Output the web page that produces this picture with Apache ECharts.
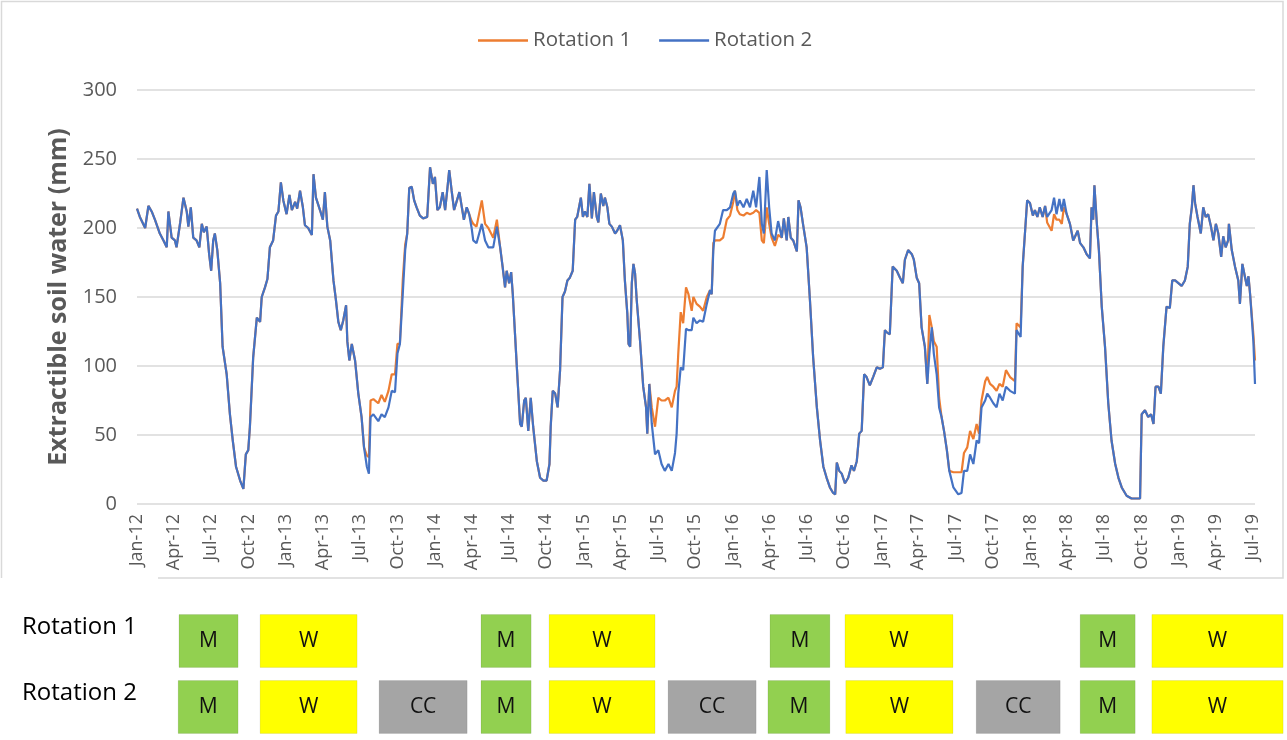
<!DOCTYPE html>
<html>
<head>
<meta charset="utf-8">
<script src="https://cdn.jsdelivr.net/npm/echarts@6/dist/echarts.min.js"></script>
<style>
html,body{margin:0;padding:0;background:#fff;}
#chart{width:1287px;height:740px;}
</style>
</head>
<body>
<div id="chart"></div>
<script>
// x positions: days since 1 Jan 2012
const days = [0,7,20,28,36,44,56,65,73,77,85,93,97,106,114,122,126,132,138,146,153,159,164,171,177,182,187,191,197,204,210,220,228,235,243,253,261,267,273,277,285,294,302,306,314,320,326,334,341,347,353,359,367,374,380,388,393,400,407,412,420,429,433,439,449,456,461,467,474,482,488,494,500,506,513,516,521,527,535,543,551,557,564,569,573,580,592,600,608,617,625,633,639,645,652,658,663,668,674,680,686,694,702,712,719,726,731,737,743,750,756,761,766,772,778,783,791,797,802,809,815,821,825,833,846,854,862,874,883,891,897,903,907,913,918,922,932,940,944,950,954,960,966,972,981,989,997,1005,1012,1015,1020,1026,1032,1038,1044,1050,1056,1062,1069,1075,1080,1089,1094,1099,1105,1110,1116,1121,1128,1132,1138,1144,1148,1154,1159,1165,1173,1178,1185,1192,1197,1203,1206,1210,1214,1218,1222,1226,1234,1242,1249,1252,1257,1263,1271,1279,1287,1295,1304,1312,1320,1324,1328,1334,1340,1347,1353,1361,1365,1373,1381,1389,1398,1406,1410,1414,1418,1430,1438,1447,1455,1463,1467,1473,1479,1488,1496,1504,1512,1519,1527,1533,1538,1545,1551,1557,1565,1573,1582,1587,1594,1598,1604,1610,1619,1623,1628,1635,1643,1651,1659,1668,1676,1684,1692,1700,1708,1713,1717,1723,1729,1737,1745,1753,1759,1766,1772,1778,1784,1790,1798,1806,1815,1823,1830,1835,1841,1847,1854,1864,1872,1879,1884,1892,1901,1906,1913,1919,1925,1933,1939,1944,1950,1955,1962,1968,1974,1980,1987,1993,2003,2015,2023,2029,2037,2044,2052,2060,2066,2072,2081,2086,2093,2101,2109,2116,2124,2132,2142,2154,2158,2168,2173,2179,2184,2191,2198,2203,2209,2215,2222,2228,2233,2244,2250,2256,2263,2269,2274,2281,2289,2297,2308,2314,2322,2330,2338,2342,2346,2349,2355,2360,2367,2375,2383,2391,2400,2408,2416,2428,2440,2461,2465,2473,2481,2488,2494,2499,2506,2512,2518,2526,2534,2540,2547,2555,2563,2571,2578,2583,2588,2592,2596,2602,2610,2616,2622,2628,2635,2641,2647,2653,2660,2665,2671,2677,2679,2686,2694,2702,2706,2712,2718,2723,2727,2731,2739,2743];

const rotation1 = [214,208,200,216,212,206,196,191,186,212,193,191,186,204,222,212,201,215,193,191,186,203,197,201,181,169,191,196,184,160,114,94,65,46,27,17,11,36,39,56,106,135,132,150,157,163,186,191,209,212,233,220,210,224,213,219,214,227,215,202,200,195,239,222,213,206,226,201,191,162,148,132,126,133,144,118,104,116,104,80,63,41,35,34,75,76,73,79,74,82,94,94,116,116,162,188,196,229,230,220,215,209,207,208,244,232,237,213,215,226,213,227,242,227,213,218,226,215,206,215,210,205,203,201,220,203,200,193,206,186,172,157,169,160,168,152,99,58,56,75,77,53,77,56,31,19,17,17,29,56,82,80,70,97,150,154,162,164,169,206,208,222,208,212,208,232,207,226,208,204,225,216,222,215,203,201,196,198,202,191,162,138,116,114,160,174,167,148,119,85,70,51,87,70,56,77,75,75,77,70,82,85,109,139,131,157,152,140,150,145,143,140,150,155,152,189,191,191,193,206,209,219,227,213,210,209,211,210,211,213,211,191,189,215,203,193,187,195,193,207,191,208,193,191,183,220,215,201,186,148,106,70,46,27,19,12,8,7,30,24,22,15,19,28,24,31,51,53,94,92,86,92,99,98,99,126,124,123,172,169,164,160,177,184,181,177,164,160,128,114,87,137,128,118,114,77,63,53,39,24,23,23,23,37,41,53,47,58,51,75,89,92,87,85,82,87,85,97,92,89,131,128,172,198,220,218,209,213,208,215,208,216,204,198,210,206,206,203,215,210,203,191,198,189,186,181,178,215,206,231,203,184,143,114,73,46,29,19,12,6,4,4,65,68,63,65,58,85,85,80,114,143,142,162,162,160,158,162,172,203,215,231,218,208,196,215,208,210,201,191,203,196,179,194,186,191,203,184,172,162,145,174,165,158,165,152,123,104];

const rotation2 = [214,208,200,216,212,206,196,191,186,212,193,191,186,204,222,212,201,215,193,191,186,203,197,201,181,169,191,196,184,160,114,94,65,46,27,17,11,36,39,56,106,135,132,150,157,163,186,191,209,212,233,220,210,224,213,219,214,227,215,202,200,195,239,222,213,206,226,201,191,162,148,132,126,133,144,118,104,116,104,80,63,41,27,22,63,65,60,65,63,70,82,81,109,116,152,184,196,229,230,220,215,209,207,208,244,232,237,213,215,226,213,227,242,227,213,218,226,215,206,215,210,200,191,189,203,191,186,186,201,186,172,157,169,160,168,152,99,58,56,75,77,53,77,56,31,19,17,17,29,56,82,80,70,97,150,154,162,164,169,206,208,222,208,212,208,232,207,226,208,204,225,216,222,215,203,201,196,198,202,191,162,138,116,114,160,174,167,148,119,85,70,51,87,58,36,39,29,24,29,24,37,51,80,99,97,127,126,126,135,131,133,132,145,155,152,184,198,203,213,213,215,225,227,216,220,215,221,215,227,215,237,203,196,242,215,196,191,205,193,207,191,208,193,191,183,220,215,201,186,148,106,70,46,27,19,12,8,7,30,24,22,15,19,28,24,31,51,53,94,92,86,92,99,98,99,126,124,123,172,169,164,160,177,184,181,177,164,160,128,114,87,109,128,109,94,70,63,53,39,24,12,7,8,24,24,36,29,46,44,70,75,80,77,73,70,80,75,85,82,80,126,121,172,198,220,218,209,213,208,215,208,216,208,213,222,210,221,212,221,210,203,191,198,189,186,181,178,215,206,231,203,184,143,114,73,46,29,19,12,6,4,4,65,68,63,65,58,85,85,80,114,143,142,162,162,160,158,162,172,203,215,231,218,208,196,215,208,210,201,191,203,196,179,194,186,191,203,184,172,162,145,174,165,158,165,152,118,87];

// quarterly tick positions (days since 1 Jan 2012) and labels
const tickDays = [0,91,182,274,366,456,547,639,731,821,912,1004,1096,1186,1277,1369,1461,1552,1643,1735,1827,1917,2008,2100,2192,2282,2373,2465,2557,2647,2738];
const tickLabels = ['Jan-12','Apr-12','Jul-12','Oct-12','Jan-13','Apr-13','Jul-13','Oct-13','Jan-14','Apr-14','Jul-14','Oct-14','Jan-15','Apr-15','Jul-15','Oct-15','Jan-16','Apr-16','Jul-16','Oct-16','Jan-17','Apr-17','Jul-17','Oct-17','Jan-18','Apr-18','Jul-18','Oct-18','Jan-19','Apr-19','Jul-19'];

// crop rotation periods (days since 1 Jan 2012)
const rowNames = ['Rotation 2','Rotation 1'];
const cropRow   = [1,1,1,1,1,1,1,1, 0,0,0,0,0,0,0,0,0,0,0];
const cropName  = ['M','W','M','W','M','W','M','W', 'M','W','CC','M','W','CC','M','W','CC','M','W'];
const cropStart = [103,302,844,1011,1553,1737,2314,2490, 101,302,594,844,1011,1303,1548,1739,2059,2314,2490];
const cropEnd   = [248,540,967,1271,1700,2002,2449,2812, 248,540,810,967,1271,1519,1700,2002,2265,2449,2812];

const cropColors = {M:'#92D050', W:'#FFFF00', CC:'#A5A5A5'};
const FONT = '"Open Sans", sans-serif';

const s1 = days.map((d,i)=>[d, rotation1[i]]);
const s2 = days.map((d,i)=>[d, rotation2[i]]);
const crops = cropName.map((n,i)=>[cropStart[i], cropEnd[i], cropRow[i], n]);

const chart = echarts.init(document.getElementById('chart'), null, {renderer:'canvas'});
chart.setOption({
  animation:false,
  backgroundColor:'#fff',
  textStyle:{fontFamily:FONT},
  graphic:[{
    type:'polyline', silent:true, z:-1,
    shape:{points:[[158,578],[1283,578],[1283,1.5],[1.5,1.5],[1.5,578]]},
    style:{stroke:'#D9D9D9', lineWidth:1.5, fill:null}
  }],
  legend:{
    data:['Rotation 1','Rotation 2'],
    left:473, top:25,
    icon:'rect', itemWidth:50, itemHeight:2.5, itemGap:28,
    textStyle:{fontSize:20.5, color:'#595959', fontFamily:FONT}
  },
  grid:[
    {left:137, right:32, top:90, bottom:236},
    {left:137, right:32, top:608, height:134}
  ],
  xAxis:[{
    type:'value', gridIndex:0, min:0, max:2743,
    axisLine:{show:false}, axisTick:{show:false}, splitLine:{show:false},
    axisLabel:{
      customValues:tickDays, rotate:90, margin:10, fontSize:18, color:'#595959', fontFamily:FONT,
      formatter:v=>{const k=tickDays.indexOf(v);return k>=0?tickLabels[k]:'';}
    }
  },{
    type:'value', gridIndex:1, min:0, max:2743, show:false
  }],
  yAxis:[{
    type:'value', gridIndex:0, min:0, max:300, interval:50,
    axisLine:{show:false}, axisTick:{show:false},
    splitLine:{lineStyle:{color:'#D9D9D9', width:1.5}},
    axisLabel:{fontSize:20, color:'#595959', margin:20, fontFamily:FONT},
    name:'Extractible soil water (mm)', nameLocation:'middle', nameGap:65,
    nameTextStyle:{fontSize:25, fontWeight:'bold', color:'#595959', fontFamily:FONT}
  },{
    type:'category', gridIndex:1, data:rowNames,
    axisLine:{show:false}, axisTick:{show:false}, splitLine:{show:false},
    axisLabel:{fontSize:24, color:'#000', margin:115, align:'left', verticalAlign:'bottom', padding:[0,0,2,0], fontFamily:FONT}
  }],
  series:[
    {name:'Rotation 1', type:'line', xAxisIndex:0, yAxisIndex:0, data:s1, showSymbol:false, symbol:'none',
     lineStyle:{color:'#ED7D31', width:2.2}, itemStyle:{color:'#ED7D31'}, z:2},
    {name:'Rotation 2', type:'line', xAxisIndex:0, yAxisIndex:0, data:s2, showSymbol:false, symbol:'none',
     lineStyle:{color:'#4472C4', width:2.2}, itemStyle:{color:'#4472C4'}, z:3},
    {type:'custom', xAxisIndex:1, yAxisIndex:1, data:crops, clip:false,
     renderItem:(params, api)=>{
       const a = api.coord([api.value(0), api.value(2)]);
       const b = api.coord([api.value(1), api.value(2)]);
       const h = api.size([0,1])[1]*0.8;
       const name = cropName[params.dataIndex];
       return {
         type:'rect',
         shape:{x:a[0], y:a[1]-h/2, width:b[0]-a[0], height:h},
         style:{fill:cropColors[name], stroke:'rgba(0,0,0,0.08)', lineWidth:1},
         textContent:{style:{text:name, fill:'#111', fontSize:21, fontFamily:FONT}},
         textConfig:{position:'inside'}
       };
     }}
  ]
});
</script>
</body>
</html>
